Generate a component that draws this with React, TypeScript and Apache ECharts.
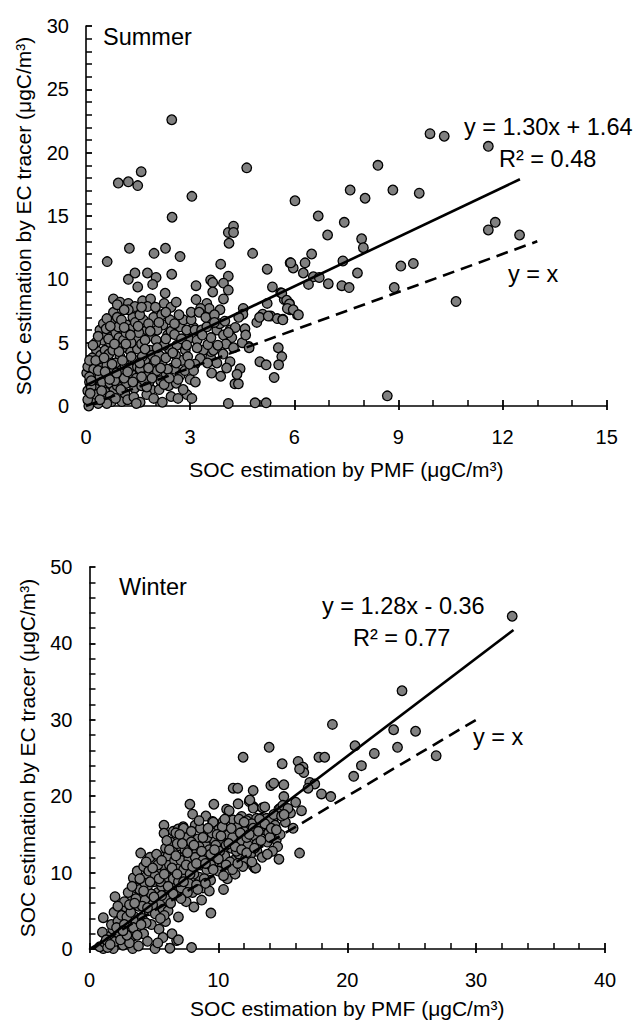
import React, { useEffect, useRef } from 'react';
import * as echarts from 'echarts';

const FONT = '"Liberation Sans", Arial, Helvetica, sans-serif';

// ---------- DATA ----------
const summerPoints: number[][] = [
  [2.47, 22.6], [0.93, 17.6], [1.22, 17.7], [1.49, 17.4], [1.59, 18.5], [4.63, 18.8], [3.05, 16.55], [6.02, 16.2],
  [2.48, 14.9], [4.10, 13.7], [4.25, 14.2], [4.25, 13.7], [4.12, 12.85], [1.25, 12.45], [2.29, 12.45], [1.96, 12.05],
  [2.71, 11.8], [0.61, 11.4], [4.80, 12.05], [3.88, 11.2], [5.22, 10.8], [5.88, 11.3], [5.97, 10.9],
  [1.22, 10.0], [1.41, 10.5], [1.77, 10.5], [2.02, 10.15], [1.92, 9.6], [2.47, 10.4], [1.49, 9.4], [3.17, 9.5],
  [3.59, 9.95], [3.65, 9.75], [4.10, 10.25], [3.96, 9.7], [4.10, 9.15], [3.65, 9.0], [2.28, 8.9], [3.17, 8.4],
  [3.96, 8.45], [0.79, 8.45], [0.98, 8.2], [1.22, 8.1], [1.41, 7.85], [1.63, 8.3], [1.86, 8.45], [1.77, 7.85],
  [2.25, 8.1], [2.45, 7.8], [3.48, 8.1], [3.55, 7.7], [3.86, 7.6], [4.53, 7.7], [4.52, 7.25], [4.92, 6.6],
  [5.09, 7.25], [5.37, 9.4], [5.61, 8.95], [5.22, 8.1], [5.32, 7.1], [5.51, 6.9], [5.67, 6.85], [5.88, 7.6],
  [6.09, 7.2], [5.71, 8.4], [5.86, 8.1], [5.01, 3.5], [5.19, 3.25], [5.54, 4.6], [5.64, 3.9], [5.55, 3.25],
  [5.42, 2.25], [3.59, 3.85], [3.77, 3.4], [3.62, 2.6], [3.88, 2.35], [4.44, 2.95], [4.29, 1.75], [4.39, 1.75],
  [4.10, 0.2], [4.87, 0.25], [5.19, 0.25], [4.58, 6.1], [5.0, 7.0], [5.25, 7.1], [4.69, 4.7], [3.6, 4.3],
  [3.3, 7.7], [3.1, 6.2],
  [9.91, 21.5], [10.32, 21.3], [11.59, 20.5], [8.41, 19.0], [7.61, 17.05], [8.04, 16.4], [8.84, 17.05], [9.6, 16.8],
  [6.69, 15.0], [7.44, 14.5], [6.96, 13.5], [7.94, 13.2], [7.99, 12.5], [11.59, 13.9], [11.79, 14.5], [12.49, 13.5],
  [6.50, 12.0], [5.9, 11.3], [6.31, 11.3], [6.26, 10.5], [7.40, 11.45], [7.82, 10.5], [6.55, 10.2], [6.72, 10.15],
  [6.41, 9.6], [6.98, 9.65], [7.37, 9.5], [7.58, 9.35], [9.07, 11.05], [9.43, 11.25], [8.88, 9.35], [10.66, 8.25],
  [5.64, 8.9], [5.78, 8.35], [5.86, 8.05], [5.80, 7.7], [5.97, 7.6], [6.12, 7.2], [5.67, 6.8], [8.68, 0.8],
  // dense cluster
  [0.02, 2.6], [0.05, 3.1], [0.1, 1.9], [0.05, 1.2], [0.12, 0.3], [0.2, 1.0], [0.08, 0.0], [0.15, 0.6], [0.25, 2.2],
  [0.3, 4.4], [0.33, 3.4], [0.4, 2.3], [0.38, 1.5], [0.5, 0.7], [0.4, 6.0], [0.5, 6.5], [0.48, 5.2], [0.3, 1.3],
  [0.22, 2.9], [0.18, 3.8], [0.35, 0.2], [0.45, 3.0], [0.28, 5.0], [0.42, 4.0], [0.1, 2.3], [0.35, 2.8], [0.47, 1.9],
  [0.25, 0.5], [0.15, 1.5], [0.55, 4.4],
  [0.64, 3.6], [0.74, 2.9], [0.69, 1.8], [0.74, 0.35], [0.74, 6.8], [0.79, 7.4], [0.84, 5.75], [0.93, 6.25],
  [0.88, 4.8], [0.98, 3.9], [0.93, 2.3], [1.03, 0.35], [0.6, 5.6], [0.7, 5.0], [0.62, 2.4], [0.8, 1.2], [0.9, 1.6],
  [0.66, 4.1], [0.96, 3.1], [0.58, 6.1], [0.85, 3.4], [0.77, 4.4], [0.95, 5.4], [0.55, 1.1], [0.7, 0.8], [0.9, 7.0],
  [0.6, 6.9], [0.99, 2.6], [0.83, 2.0], [0.6, 3.2],
  [1.08, 5.2], [1.12, 3.25], [1.17, 1.8], [1.12, 1.0], [1.2, 0.5], [1.17, 6.4], [1.31, 6.1], [1.45, 5.4], [1.26, 4.4],
  [1.41, 3.6], [1.05, 4.6], [1.3, 2.6], [1.4, 1.4], [1.35, 7.0], [1.22, 7.6], [1.48, 4.5], [1.1, 2.2], [1.25, 3.0],
  [1.45, 2.2], [1.38, 0.7], [1.15, 5.8], [1.42, 6.6], [1.02, 6.8], [1.3, 5.0], [1.48, 3.1],
  [1.56, 2.9], [1.65, 6.8], [1.75, 6.0], [1.6, 4.9], [1.84, 4.4], [1.7, 3.6], [1.93, 3.2], [1.79, 2.4], [1.6, 1.6],
  [1.88, 1.3], [1.56, 0.3], [1.9, 5.5], [1.55, 7.2], [1.95, 7.0], [1.7, 5.2], [1.82, 1.9], [1.62, 3.9], [1.98, 2.6],
  [1.75, 0.9], [1.9, 4.0], [1.52, 5.8], [1.68, 2.0], [1.8, 6.5],
  [2.02, 5.2], [2.11, 4.0], [2.2, 3.2], [2.3, 2.4], [2.11, 1.3], [2.45, 0.75], [2.22, 6.4], [2.42, 6.8], [2.35, 5.6],
  [2.05, 6.0], [2.15, 2.0], [2.4, 4.5], [2.3, 3.8], [2.48, 3.0], [2.25, 4.8], [2.05, 2.8], [2.38, 1.6], [2.18, 7.2],
  [2.45, 5.9],
  [2.55, 5.65], [2.71, 6.25], [2.81, 6.8], [2.62, 4.8], [2.86, 4.4], [2.76, 3.6], [2.55, 2.9], [2.71, 2.4], [2.91, 0.9],
  [2.6, 1.8], [2.95, 5.3], [2.68, 7.2], [2.85, 2.8], [2.58, 4.0], [2.9, 6.0], [2.65, 0.6],
  [3.0, 2.1], [3.03, 6.8], [3.03, 7.4], [3.26, 7.4], [3.14, 6.0], [3.2, 5.2], [2.93, 3.9], [3.33, 6.0], [3.48, 6.25],
  [3.77, 6.0], [3.96, 5.6], [3.67, 4.4], [3.38, 4.4], [3.29, 3.75], [3.51, 4.85], [3.14, 3.3], [3.1, 2.8], [3.6, 5.4],
  [3.85, 6.5], [3.45, 7.0], [3.7, 7.2], [3.2, 4.6],
  [4.15, 6.0], [4.2, 5.4], [4.03, 4.9], [4.5, 5.0], [4.7, 4.6], [4.3, 6.2], [4.1, 5.8], [4.4, 7.0], [4.6, 5.6],
  [4.25, 4.6], [4.15, 3.5], [4.05, 3.0], [4.35, 2.5],
  [0.05, 0.5], [0.1, 3.6], [0.2, 4.8], [0.15, 2.0], [0.3, 0.9], [0.45, 1.2], [0.6, 0.2], [0.55, 2.7], [0.65, 5.3],
  [0.75, 3.3], [0.85, 0.6], [0.95, 4.3], [1.0, 1.3], [1.1, 6.2], [1.2, 2.7], [1.3, 3.9], [1.35, 1.9], [1.45, 0.2],
  [1.5, 6.3], [1.6, 2.3], [1.7, 4.5], [1.75, 1.5], [1.85, 5.9], [1.95, 0.6], [2.0, 3.6], [2.1, 6.6], [2.2, 0.3],
  [2.25, 1.7], [2.35, 2.9], [2.5, 4.2], [2.55, 6.5], [2.6, 3.4], [2.75, 5.3], [2.8, 1.3], [2.9, 4.8], [2.98, 3.3],
  [3.05, 0.6], [3.15, 1.9], [3.35, 5.6], [3.5, 3.4], [3.7, 6.6], [3.8, 4.8], [3.95, 4.1], [4.0, 6.7], [0.9, 8.0],
  [1.1, 7.6], [1.6, 7.8], [2.0, 7.8], [2.6, 8.2], [2.3, 7.4], [0.35, 5.5], [0.7, 6.3], [0.4, 0.5], [0.28, 3.6],
  [0.52, 3.8], [0.82, 4.9], [1.05, 3.6], [1.28, 5.6], [1.55, 3.4], [1.8, 3.0], [2.05, 4.6], [2.3, 5.3], [2.65, 2.1],
  [2.4, 2.2], [2.15, 3.0], [1.9, 2.2], [1.15, 4.9], [0.68, 2.1], [0.88, 2.6], [0.12, 1.0],
];

const winterPoints: number[][] = [
  [32.8, 43.55], [24.25, 33.8], [23.6, 28.7], [25.3, 28.5], [20.6, 26.6], [23.9, 26.4], [22.1, 25.6], [21.1, 24.0],
  [26.9, 25.3], [20.5, 22.6], [18.85, 29.4], [13.94, 26.4], [11.92, 25.1], [14.95, 24.25], [16.19, 24.55], [16.57, 23.8],
  [16.63, 23.1], [17.8, 25.1], [18.25, 25.1], [11.15, 21.05], [11.5, 21.05], [12.7, 20.75], [14.07, 21.4], [14.3, 21.7],
  [15.08, 21.5], [15.08, 19.95], [17.09, 21.8], [17.48, 21.6], [16.96, 21.05], [18.0, 20.3], [18.72, 19.95],
  [9.65, 18.95], [10.64, 18.3], [10.84, 18.1], [11.53, 19.0], [12.39, 19.3], [12.7, 18.65], [12.7, 18.45], [13.43, 18.5],
  [14.69, 18.3], [14.82, 18.45], [16.45, 18.1], [9.03, 17.4], [12.39, 17.0], [13.35, 17.1], [16.3, 23.55],
  [7.79, 18.95], [8.0, 17.65], [12.44, 19.5], [5.78, 16.2], [5.78, 15.15], [6.5, 15.4], [6.88, 15.7], [7.27, 16.0],
  [9.55, 16.7], [10.37, 16.7], [11.15, 16.9], [11.8, 17.35], [12.19, 16.8], [12.96, 17.1], [13.74, 17.1], [14.25, 17.1],
  [3.97, 12.55], [14.5, 14.3], [14.7, 11.75], [16.3, 12.55], [12.7, 10.9], [12.83, 10.6], [1.98, 6.85], [1.07, 4.1],
  [9.42, 4.7], [7.92, 0.2], [6.76, 1.1], [6.24, 0.1], [5.08, 0.05], [3.35, 0.05], [1.85, 0.05], [1.07, 0.05],
  // dense band
  [0.8, 0.3], [1.2, 0.8], [1.5, 1.6], [1.0, 2.2], [1.8, 2.6], [1.4, 0.2], [2.0, 1.0], [1.7, 3.2], [2.2, 3.6], [1.9, 4.8],
  [2.5, 4.4], [2.3, 2.0], [2.6, 0.5],
  [2.8, 5.5], [3.0, 3.0], [3.2, 6.5], [3.5, 4.2], [3.3, 1.6], [3.0, 7.4], [3.6, 8.0], [3.8, 5.6], [3.9, 2.5], [2.7, 6.2],
  [3.4, 9.3], [3.7, 10.2], [4.0, 7.0], [3.1, 0.8], [3.8, 0.4], [3.6, 3.5], [2.9, 4.2],
  [4.2, 10.8], [4.4, 9.5], [4.5, 8.2], [4.3, 6.4], [4.6, 5.0], [4.8, 3.2], [4.2, 2.0], [5.0, 11.6], [5.2, 10.0], [5.0, 8.8],
  [5.3, 7.4], [5.5, 6.0], [5.1, 4.6], [5.4, 2.6], [5.7, 1.5], [5.9, 12.2], [5.8, 10.8], [6.0, 9.4], [5.6, 8.2], [6.0, 6.6],
  [5.7, 5.2], [4.7, 12.0], [4.1, 4.0], [5.9, 3.6], [4.5, 1.0], [5.3, 0.8],
  [6.3, 14.0], [6.5, 12.8], [6.2, 11.0], [6.6, 10.2], [6.4, 8.4], [6.8, 7.0], [6.1, 5.0], [7.0, 13.5], [7.2, 12.0],
  [7.0, 10.8], [7.4, 9.6], [7.1, 8.0], [7.5, 6.2], [6.9, 4.2], [7.6, 14.6], [7.8, 13.0], [7.9, 11.2], [7.7, 8.6],
  [8.0, 7.4], [6.7, 15.2], [7.3, 15.8], [6.4, 2.0], [6.9, 1.2],
  [8.2, 16.2], [8.4, 14.4], [8.3, 12.6], [8.6, 11.0], [8.5, 9.4], [8.8, 8.0], [8.9, 15.4], [9.0, 13.6], [9.2, 12.0],
  [9.1, 10.4], [9.4, 9.0], [9.6, 16.6], [9.7, 14.2], [9.9, 12.8], [9.8, 11.0], [10.0, 15.6], [8.7, 6.4], [9.3, 7.6],
  [8.1, 5.5],
  [10.3, 14.0], [10.5, 12.2], [10.2, 10.6], [10.8, 15.0], [11.0, 13.2], [11.2, 11.6], [10.7, 9.2], [11.5, 16.0],
  [11.8, 14.2], [11.6, 12.4], [12.0, 15.4], [12.3, 13.6], [12.1, 11.8], [12.6, 16.4], [12.8, 14.8], [13.0, 12.8],
  [11.3, 9.8], [10.4, 7.8], [13.2, 17.0], [12.9, 10.6],
  [13.5, 15.6], [13.8, 14.0], [14.0, 16.8], [14.3, 17.6], [13.6, 18.6], [14.8, 15.0], [15.2, 16.6], [14.6, 13.4],
  [15.6, 17.8], [15.0, 18.8], [16.0, 19.2], [14.2, 12.8],
  [1.3, 1.2], [1.6, 0.6], [2.1, 2.8], [2.4, 1.2], [2.7, 3.2], [2.9, 1.8], [3.2, 4.8], [3.4, 2.8], [3.6, 6.6], [3.9, 7.8],
  [4.1, 5.6], [4.4, 3.4], [4.3, 8.6], [4.6, 10.2], [4.8, 7.2], [4.9, 5.8], [5.1, 9.6], [5.3, 11.0], [5.5, 8.8], [5.6, 7.0],
  [5.8, 4.4], [5.9, 13.2], [6.1, 12.2], [6.2, 7.8], [6.3, 6.0], [6.5, 9.2], [6.6, 11.6], [6.8, 13.8], [6.9, 8.8],
  [7.1, 11.6], [7.3, 10.4], [7.4, 13.0], [7.6, 7.4], [7.7, 11.8], [7.9, 14.0], [8.1, 9.8], [8.2, 12.0], [8.3, 8.4],
  [8.5, 13.4], [8.6, 15.8], [8.8, 11.6], [8.9, 9.2], [9.1, 14.6], [9.3, 13.0], [9.4, 11.0], [9.5, 15.2], [9.8, 13.6],
  [10.0, 10.2], [10.1, 12.8], [10.3, 16.0], [10.6, 13.6], [10.9, 11.4], [11.1, 14.6], [11.4, 12.8], [11.7, 15.2],
  [11.9, 10.8], [12.2, 14.6], [12.5, 12.4], [12.7, 15.8], [13.0, 13.8], [13.3, 16.0], [13.4, 12.0], [13.9, 15.2],
  [14.4, 16.2], [14.9, 17.4], [15.4, 18.4], [15.8, 15.8], [14.0, 14.6],
  [2.2, 5.6], [2.6, 2.4], [3.1, 5.8], [3.3, 8.2], [3.5, 6.0], [3.7, 1.8], [3.9, 9.2], [4.0, 3.2], [4.2, 7.6], [4.4, 11.4],
  [4.5, 5.4], [4.7, 8.8], [4.9, 10.6], [5.0, 6.8], [5.2, 12.4], [5.4, 9.2], [5.5, 4.0], [5.6, 11.6], [5.8, 9.8],
  [6.0, 14.2], [6.1, 8.2], [6.2, 13.0], [6.4, 10.6], [6.5, 7.2], [6.7, 12.2], [6.8, 9.8], [7.0, 15.0], [7.1, 6.6],
  [7.2, 13.8], [7.3, 8.8], [7.5, 11.0], [7.6, 12.6], [7.8, 9.8], [7.9, 15.4], [8.0, 10.8], [8.1, 13.6], [8.3, 11.2],
  [8.4, 7.8], [8.5, 16.8], [8.7, 12.8], [8.8, 14.6], [9.0, 11.2], [9.0, 8.6], [9.2, 15.8], [9.4, 12.4], [9.6, 10.4],
  [9.7, 13.0], [9.9, 15.0], [10.0, 11.8], [10.2, 14.8], [10.4, 9.6], [10.5, 17.0], [10.6, 11.0], [10.8, 13.8],
  [11.0, 15.8], [11.1, 10.4], [11.3, 13.4], [11.5, 11.2], [11.6, 17.0], [11.8, 13.0], [12.0, 16.6], [12.2, 12.6],
  [12.4, 15.0], [12.6, 11.4], [12.8, 13.2], [13.1, 15.4], [13.3, 14.2], [13.6, 16.4], [13.8, 12.4], [14.1, 15.8],
  [14.5, 15.6], [15.1, 17.6],
];

const summerFit: number[][] = [[0, 1.64], [12.5, 17.9]];
const summerIdentity: number[][] = [[0, 0], [13, 13]];
const winterFit: number[][] = [[0.28, 0], [32.9, 41.75]];
const winterIdentity: number[][] = [[0, 0], [30, 30]];

const xName = 'SOC estimation by PMF (μgC/m³)';
const yName = 'SOC estimation by EC tracer (μgC/m³)';

const INK = '#000';
const TICK_LEN = 6;

// ---------- AXIS HELPERS ----------
// main x axis: line, labels, name and the short outward part of the major ticks
function mainX(gridIndex: number, max: number, interval: number, nameGap: number) {
  return {
    type: 'value', gridIndex, min: 0, max, interval, position: 'bottom',
    name: xName, nameLocation: 'middle', nameGap,
    nameTextStyle: { fontFamily: FONT, fontSize: 21, color: INK },
    axisLine: { show: true, onZero: false, lineStyle: { color: INK, width: 1.6 } },
    axisTick: { show: true, inside: false, length: 4, lineStyle: { color: INK, width: 1.8 } },
    minorTick: { show: false },
    axisLabel: { margin: 21, fontFamily: FONT, fontSize: 20, color: INK },
    splitLine: { show: false }, minorSplitLine: { show: false },
  };
}
// helper x axis moved up into the plot: its outward ticks end on the real axis line (inside ticks)
function innerX(gridIndex: number, max: number, interval: number, minorSplit: number) {
  return {
    type: 'value', gridIndex, min: 0, max, interval, position: 'bottom', offset: -TICK_LEN,
    axisLine: { show: false, onZero: false },
    axisTick: { show: true, inside: false, length: TICK_LEN, lineStyle: { color: INK, width: 1.8 } },
    minorTick: { show: true, splitNumber: minorSplit, length: TICK_LEN, lineStyle: { color: INK, width: 1.5 } },
    axisLabel: { show: false }, splitLine: { show: false }, minorSplitLine: { show: false },
  };
}
function mainY(gridIndex: number, max: number, interval: number) {
  return {
    type: 'value', gridIndex, min: 0, max, interval, position: 'left',
    name: yName, nameLocation: 'middle', nameGap: 52,
    nameTextStyle: { fontFamily: FONT, fontSize: 21, color: INK },
    axisLine: { show: true, onZero: false, lineStyle: { color: INK, width: 1.6 } },
    axisTick: { show: false },
    minorTick: { show: false },
    axisLabel: { margin: 17, fontFamily: FONT, fontSize: 20, color: INK },
    splitLine: { show: false }, minorSplitLine: { show: false },
  };
}
// helper y axis moved right into the plot: its outward ticks end on the real axis line
function innerY(gridIndex: number, max: number, interval: number, minorSplit: number) {
  return {
    type: 'value', gridIndex, min: 0, max, interval, position: 'left', offset: -TICK_LEN,
    axisLine: { show: false, onZero: false },
    axisTick: { show: true, inside: false, length: TICK_LEN, lineStyle: { color: INK, width: 1.8 } },
    minorTick: { show: true, splitNumber: minorSplit, length: TICK_LEN, lineStyle: { color: INK, width: 1.5 } },
    axisLabel: { show: false }, splitLine: { show: false }, minorSplitLine: { show: false },
  };
}

function scatter(xi: number, yi: number, data: number[][]) {
  return {
    type: 'scatter', xAxisIndex: xi, yAxisIndex: yi, data, clip: false, z: 2,
    symbol: 'circle', symbolSize: 9.6,
    itemStyle: { color: '#808080', borderColor: INK, borderWidth: 1.3, opacity: 1 },
    silent: true,
  };
}
function line(xi: number, yi: number, data: number[][], dashed: boolean) {
  return {
    type: 'line', xAxisIndex: xi, yAxisIndex: yi, data, showSymbol: false, symbol: 'none', z: 5, clip: false,
    lineStyle: { color: INK, width: 2.6, type: dashed ? [12, 7] : 'solid' },
    silent: true,
  };
}
function label(x: number, y: number, text: string) {
  return {
    type: 'text', x, y, z: 10,
    style: { text, fontFamily: FONT, fontSize: 23.5, fill: INK, align: 'left', verticalAlign: 'middle' },
  };
}

export default function App() {
  const ref = useRef<HTMLDivElement>(null);
  useEffect(() => {
    if (!ref.current) return;
    const chart = echarts.init(ref.current, null, { renderer: 'svg' });
    chart.setOption({
      animation: false,
      backgroundColor: '#fff',
      grid: [
        { left: 86, top: 26, width: 520.7, height: 380, outerBoundsMode: 'none' },
        { left: 89.5, top: 567, width: 515.5, height: 382, outerBoundsMode: 'none' },
      ],
      xAxis: [mainX(0, 15, 3, 53), innerX(0, 15, 3, 3), mainX(1, 40, 10, 49), innerX(1, 40, 10, 5)],
      yAxis: [mainY(0, 30, 5), innerY(0, 30, 5, 5), mainY(1, 50, 10), innerY(1, 50, 10, 5)],
      series: [
        scatter(0, 0, summerPoints),
        line(0, 0, summerFit, false),
        line(0, 0, summerIdentity, true),
        scatter(2, 2, winterPoints),
        line(2, 2, winterFit, false),
        line(2, 2, winterIdentity, true),
      ],
      graphic: [
        label(103, 37, 'Summer'),
        label(464, 127, 'y = 1.30x + 1.64'),
        label(499, 159, 'R² = 0.48'),
        label(508, 274, 'y = x'),
        label(119, 587, 'Winter'),
        label(322, 606, 'y = 1.28x - 0.36'),
        label(353, 638, 'R² = 0.77'),
        label(473, 737, 'y = x'),
      ],
    });
    return () => chart.dispose();
  }, []);
  return <div ref={ref} style={{ position: 'absolute', left: 0, top: 0, width: 634, height: 1021 }} />;
}
